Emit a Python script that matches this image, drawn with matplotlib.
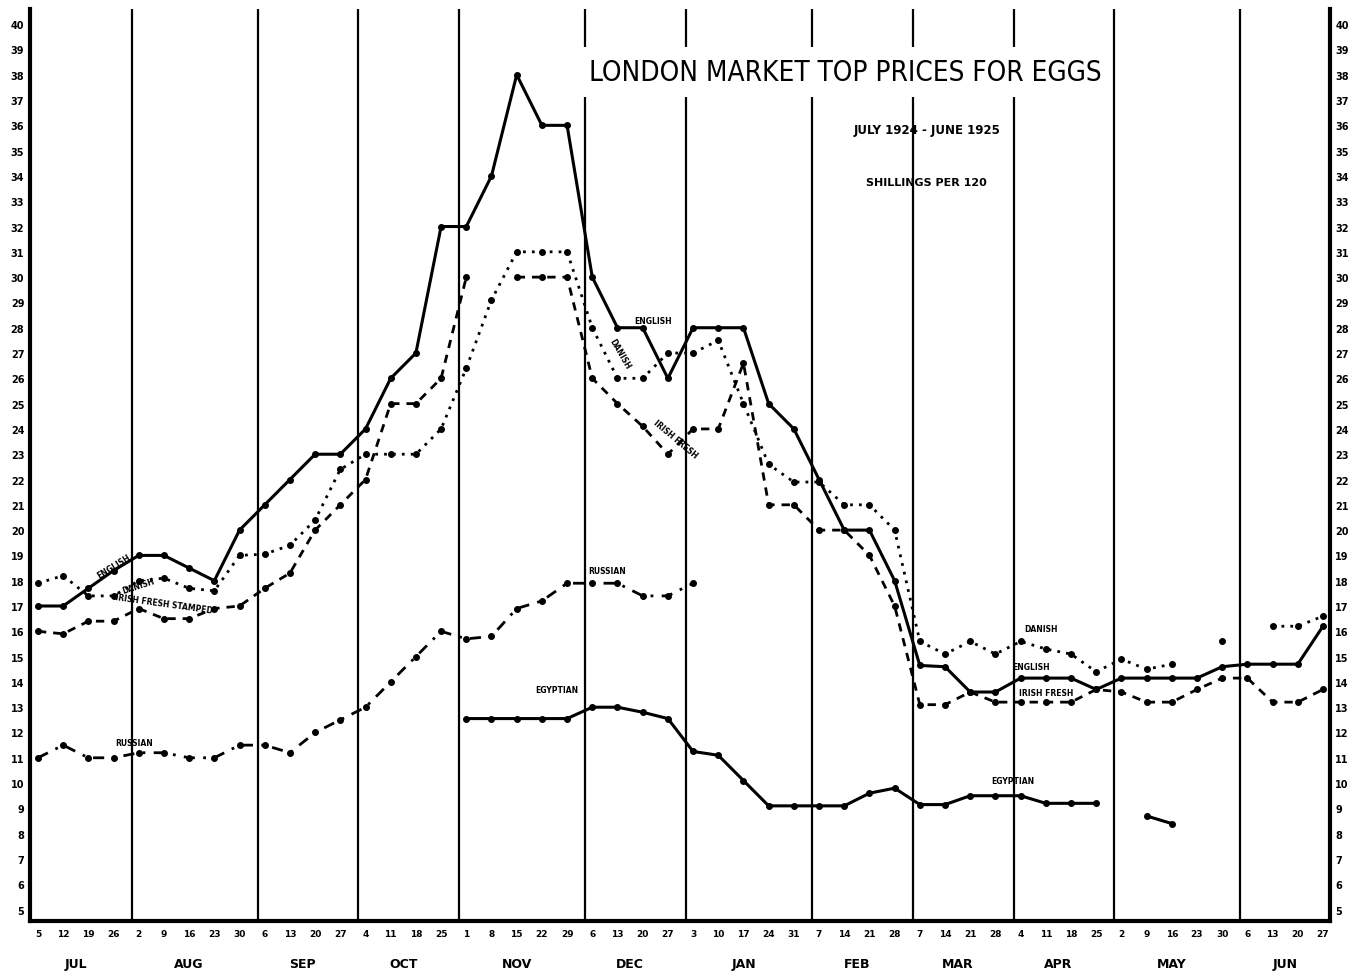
import numpy as np
import matplotlib.pyplot as plt

nan = np.nan

# weekly quotations, July 1924 - June 1925 (shillings per 120)
months = ["JUL", "AUG", "SEP", "OCT", "NOV", "DEC", "JAN", "FEB", "MAR", "APR", "MAY", "JUN"]
week_days = [[5, 12, 19, 26], [2, 9, 16, 23, 30], [6, 13, 20, 27], [4, 11, 18, 25],
             [1, 8, 15, 22, 29], [6, 13, 20, 27], [3, 10, 17, 24, 31], [7, 14, 21, 28],
             [7, 14, 21, 28], [4, 11, 18, 25], [2, 9, 16, 23, 30], [6, 13, 20, 27]]

english = [17, 17, 17.7, 18.4, 19, 19, 18.5, 18, 20, 21, 22, 23, 23,
           24, 26, 27, 32, 32, 34, 38, 36, 36, 30, 28, 28, 26,
           28, 28, 28, 25, 24, 22, 20, 20, 18, 14.65, 14.6, 13.6, 13.6,
           14.15, 14.15, 14.15, 13.7, 14.15, 14.15, 14.15, 14.15, 14.6, 14.7, 14.7, 14.7, 16.2]
danish = [17.9, 18.2, 17.4, 17.4, 18.0, 18.1, 17.7, 17.6, 19.0, 19.05, 19.4, 20.4, 22.4,
          23, 23, 23, 24, 26.4, 29.1, 31, 31, 31, 28, 26, 26, 27,
          27, 27.5, 25, 22.6, 21.9, 21.9, 21, 21, 20, 15.6, 15.1, 15.6, 15.1,
          15.6, 15.3, 15.1, 14.4, 14.9, 14.5, 14.7, nan, 15.6, nan, 16.2, 16.2, 16.6]
irish = [16.0, 15.9, 16.4, 16.4, 16.9, 16.5, 16.5, 16.9, 17.0, 17.7, 18.3, 20, 21,
         22, 25, 25, 26, 30, nan, 30, 30, 30, 26, 25, 24.1, 23,
         24, 24, 26.6, 21, 21, 20, 20, 19, 17, 13.1, 13.1, 13.6, 13.2,
         13.2, 13.2, 13.2, 13.7, 13.6, 13.2, 13.2, 13.7, 14.15, 14.15, 13.2, 13.2, 13.7]
russian = [11, 11.5, 11, 11, 11.2, 11.2, 11, 11, 11.5, 11.5, 11.2, 12, 12.5,
           13, 14, 15, 16, 15.7, 15.8, 16.9, 17.2, 17.9, 17.9, 17.9, 17.4, 17.4,
           17.9] + [nan] * 25
egyptian = [nan] * 17 + [12.55, 12.55, 12.55, 12.55, 12.55, 13.0, 13.0, 12.8, 12.55,
                         11.25, 11.1, 10.1, 9.1, 9.1, 9.1, 9.1, 9.6, 9.8, 9.15, 9.15, 9.5, 9.5,
                         9.5, 9.2, 9.2, 9.2, nan, 8.7, 8.4] + [nan] * 6

week_labels = [str(d) for m in week_days for d in m]
x = np.arange(len(week_labels))

fig = plt.figure(figsize=(13.59, 9.78), dpi=100)
ax = fig.add_axes([0.022, 0.0573, 0.9565, 0.9325])

# month division lines
ends = np.cumsum([len(m) for m in week_days])
for e in ends[:-1]:
    ax.axvline(e - 1 + 0.72, color="black", lw=1.6, zorder=1)

mk = dict(marker="o", ms=4, color="black", zorder=3)
ax.plot(x, english, ls="-", lw=2.2, **mk)
ax.plot(x, danish, ls=(0, (1, 2.2)), lw=2.0, **mk)
ax.plot(x, irish, ls=(0, (3, 2.5)), lw=2.0, **mk)
ax.plot(x, russian, ls=(0, (4, 3, 1, 3)), lw=2.0, **mk)
ax.plot(x, egyptian, ls="-", lw=2.2, **mk)

ax.set_xlim(-0.32, 51.27)
ax.set_ylim(4.55, 40.6)
ax.set_yticks(range(5, 41))
ax.tick_params(axis="y", length=0, labelsize=7, left=True, right=True,
               labelleft=True, labelright=True, pad=4)
for lab in ax.get_yticklabels():
    lab.set_fontweight("bold")
ax.set_xticks(x)
ax.set_xticklabels(week_labels, fontsize=6.5, fontweight="bold")
ax.tick_params(axis="x", length=0, pad=6)
ax.spines["top"].set_visible(False)
for s in ("left", "right", "bottom"):
    ax.spines[s].set_linewidth(3)

starts = np.concatenate([[0], ends[:-1]])
for m, s0, e in zip(months, starts, ends):
    ax.text((s0 + e - 1) / 2, -0.047, m, transform=ax.get_xaxis_transform(),
            ha="center", va="center", fontsize=9, fontweight="bold")

ax.text(0.627, 0.931, "LONDON MARKET TOP PRICES FOR EGGS", transform=ax.transAxes,
        ha="center", va="center", fontsize=20, fontstretch="condensed",
        bbox=dict(facecolor="white", edgecolor="none", pad=8), zorder=5)
ax.text(0.69, 0.868, "JULY 1924 - JUNE 1925", transform=ax.transAxes,
        ha="center", va="center", fontsize=8.5, fontweight="bold")
ax.text(0.69, 0.810, "SHILLINGS PER 120", transform=ax.transAxes,
        ha="center", va="center", fontsize=8, fontweight="bold")

# series names written along the curves
lab = dict(fontsize=5.5, fontweight="bold", ha="center", va="center", zorder=4)
ax.text(3.0, 18.6, "ENGLISH", rotation=32, **lab)
ax.text(4.0, 17.8, "DANISH", rotation=18, **lab)
ax.text(5.0, 17.1, "IRISH FRESH STAMPED", rotation=-8, **lab)
ax.text(3.8, 11.6, "RUSSIAN", **lab)
ax.text(22.6, 18.4, "RUSSIAN", **lab)
ax.text(20.6, 13.7, "EGYPTIAN", **lab)
ax.text(24.4, 28.3, "ENGLISH", **lab)
ax.text(23.1, 27.0, "DANISH", rotation=-60, **lab)
ax.text(25.3, 23.6, "IRISH FRESH", rotation=-40, **lab)
ax.text(39.8, 16.1, "DANISH", **lab)
ax.text(39.4, 14.6, "ENGLISH", **lab)
ax.text(40.0, 13.6, "IRISH FRESH", **lab)
ax.text(38.7, 10.1, "EGYPTIAN", **lab)

fig.savefig("out.png", dpi=100, facecolor="white")
